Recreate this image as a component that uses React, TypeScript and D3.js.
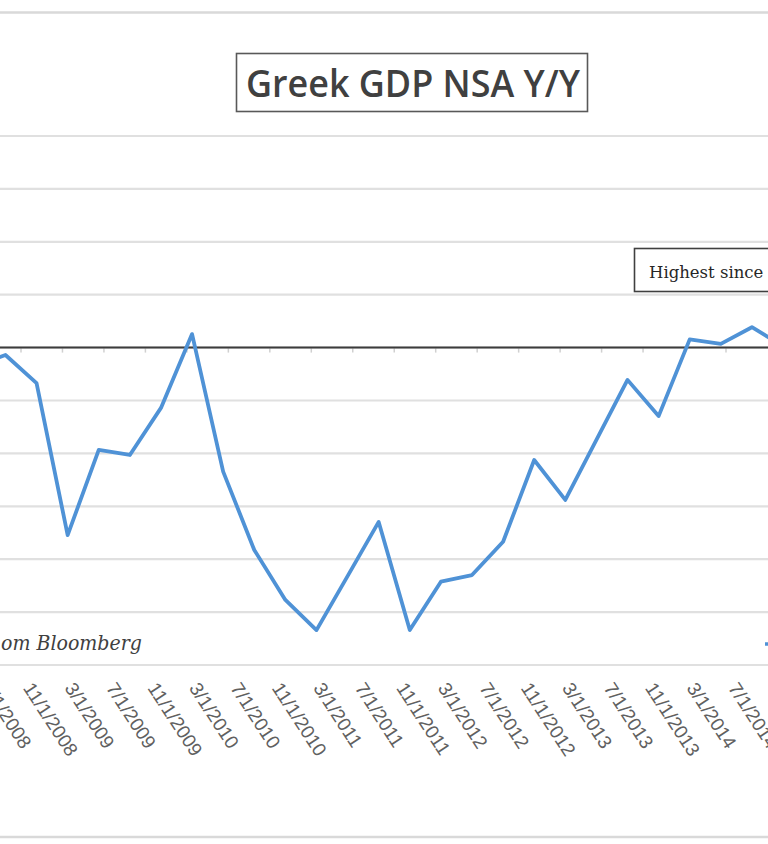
import React from "react";
import * as d3 from "d3";

// Quarterly observation months (YYYY-MM)
const quarters = [
  "2008-06", "2008-09", "2008-12",
  "2009-03", "2009-06", "2009-09", "2009-12",
  "2010-03", "2010-06", "2010-09", "2010-12",
  "2011-03", "2011-06", "2011-09", "2011-12",
  "2012-03", "2012-06", "2012-09", "2012-12",
  "2013-03", "2013-06", "2013-09", "2013-12",
  "2014-03", "2014-06", "2014-09", "2014-12",
];

// Greek GDP NSA Y/Y (%)
const gdpYoY = [
  -0.7, -0.28, -1.34,
  -7.09, -3.87, -4.06, -2.28,
  0.51, -4.69, -7.65, -9.54,
  -10.68, -8.64, -6.59, -10.68,
  -8.85, -8.6, -7.34, -4.25,
  -5.76, -3.49, -1.22, -2.59,
  0.31, 0.14, 0.77, 0.06,
];

const tickLabels = [
  "7/1/2008", "11/1/2008",
  "3/1/2009", "7/1/2009", "11/1/2009",
  "3/1/2010", "7/1/2010", "11/1/2010",
  "3/1/2011", "7/1/2011", "11/1/2011",
  "3/1/2012", "7/1/2012", "11/1/2012",
  "3/1/2013", "7/1/2013", "11/1/2013",
  "3/1/2014", "7/1/2014",
];

const yTicks = [-12, -10, -8, -6, -4, -2, 0, 2, 4, 6, 8];

const title = "Greek GDP NSA Y/Y";
const annotation = "Highest since";
const source = "om Bloomberg";

const W = 768;
const H = 844;

const monthIndexFromYM = (s: string) => {
  const [y, m] = s.split("-").map(Number);
  return (y - 2008) * 12 + (m - 1);
};
const monthIndexFromLabel = (s: string) => {
  const [m, , y] = s.split("/").map(Number);
  return (y - 2008) * 12 + (m - 1);
};

export default function App() {
  // month-index scale (uniform month width like an Excel date axis)
  const x = d3.scaleLinear().domain([10, 78]).range([21, 726]);
  const y = d3.scaleLinear().domain([-12, 8]).range([665, 136]);

  const pts = quarters.map((q, i) => ({ m: monthIndexFromYM(q) + 0.5, v: gdpYoY[i] }));
  const line = d3
    .line<{ m: number; v: number }>()
    .x((d) => x(d.m))
    .y((d) => y(d.v));

  const y0 = y(0);
  const angle = 57;

  return (
    <svg
      width={W}
      height={H}
      viewBox={`0 0 ${W} ${H}`}
      style={{ position: "absolute", left: 0, top: 0, background: "#fff" }}
    >
      <rect x={0} y={0} width={W} height={H} fill="#fff" />
      {/* chart frame lines */}
      <line x1={0} x2={W} y1={12.5} y2={12.5} stroke="#d9d9d9" strokeWidth={2.5} />
      <line x1={0} x2={W} y1={837} y2={837} stroke="#d9d9d9" strokeWidth={2.5} />

      {/* gridlines */}
      {yTicks.map((t) => (
        <line
          key={t}
          x1={0}
          x2={W}
          y1={y(t)}
          y2={y(t)}
          stroke="#e0e0e0"
          strokeWidth={2.2}
        />
      ))}

      {/* tick marks on the axis */}
      {tickLabels.map((lab) => {
        const tx = x(monthIndexFromLabel(lab));
        return (
          <line
            key={"t" + lab}
            x1={tx}
            x2={tx}
            y1={y0}
            y2={y0 + 5}
            stroke="#d0d0d0"
            strokeWidth={1.5}
          />
        );
      })}

      {/* category axis at zero */}
      <line x1={0} x2={W} y1={y0} y2={y0} stroke="#3c3c3c" strokeWidth={2} />

      {/* data line */}
      <path
        d={line(pts) || ""}
        fill="none"
        stroke="#4f92d6"
        strokeWidth={3.8}
        strokeLinejoin="round"
        strokeLinecap="round"
      />

      {/* tick labels */}
      {tickLabels.map((lab) => {
        const tx = x(monthIndexFromLabel(lab));
        return (
          <text
            key={"l" + lab}
            transform={`translate(${tx + 1.5},${688}) rotate(${angle})`}
            fontFamily="'Liberation Sans', Arial, sans-serif"
            fontSize={19}
            fill="#606060"
          >
            {lab}
          </text>
        );
      })}

      {/* title */}
      <rect x={236.5} y={53.5} width={351} height={58} fill="#fff" stroke="#595959" strokeWidth={1.6} />
      <text
        x={246}
        y={97}
        fontFamily="'Open Sans', Lato, sans-serif"
        fontWeight={600}
        fontSize={37}
        fill="#404040"
        textLength={334}
        lengthAdjust="spacingAndGlyphs"
      >
        {title}
      </text>

      {/* annotation box */}
      <rect x={634.5} y={248.5} width={200} height={43} fill="#fff" stroke="#404040" strokeWidth={1.6} />
      <text
        x={649}
        y={278}
        fontFamily="'DejaVu Serif', 'Liberation Serif', serif"
        fontSize={16.5}
        fill="#262626"
      >
        {annotation}
      </text>

      {/* source note */}
      <text
        x={1}
        y={650}
        fontFamily="'DejaVu Serif', 'Liberation Serif', serif"
        fontStyle="italic"
        fontSize={20}
        fill="#404040"
        textLength={141}
        lengthAdjust="spacingAndGlyphs"
      >
        {source}
      </text>

      {/* legend sample (cut off at right edge) */}
      <line x1={765} x2={800} y1={644} y2={644} stroke="#4f92d6" strokeWidth={3.6} />
    </svg>
  );
}
